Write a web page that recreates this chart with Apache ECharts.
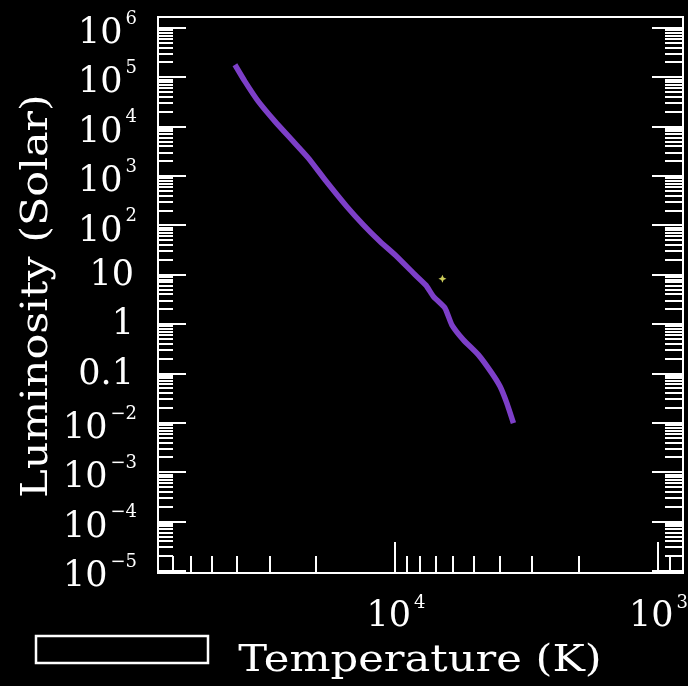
<!DOCTYPE html>
<html><head><meta charset="utf-8">
<script src="https://cdn.jsdelivr.net/npm/echarts@6/dist/echarts.min.js"></script>
<style>html,body{margin:0;padding:0;background:#000;}#c{width:688px;height:686px;}</style>
</head><body><div id="c"></div>
<script>
// ---- data ----
const trackTemp = [40740, 37330, 33190, 28680, 24780, 21410, 18490, 15280, 13210, 11410, 9852, 8515, 7620, 7145, 6450, 6079, 5491, 4813, 4279, 3979, 3751, 3540];
const trackLum  = [1.80e5, 8.28e4, 3.25e4, 1.28e4, 5450, 2320, 842, 242, 103, 47.3, 23.5, 10.8, 6.1, 3.63, 2.11, 0.97, 0.482, 0.239, 0.102, 0.0545, 0.0251, 0.00987];
const starTemp = [6600];
const starLum  = [8.3];
const yMajorValues = [1e6, 1e5, 1e4, 1e3, 1e2, 10, 1, 0.1, 1e-2, 1e-3, 1e-4, 1e-5];
const yTickLabels  = ['10^6', '10^5', '10^4', '10^3', '10^2', '10', '1', '0.1', '10^-2', '10^-3', '10^-4', '10^-5'];
const yMinorMantissa = [2, 3, 4, 5, 6, 7, 8, 9];
const yMinorDecades  = [-5, -4, -3, -2, -1, 0, 1, 2, 3, 4, 5];
const xMajorValues = [1e4, 1e3];
const xTickLabels  = ['10^4', '10^3'];
const xMinorValues = [80000, 70000, 60000, 50000, 40000, 30000, 20000, 9000, 8000, 7000, 6000, 5000, 4000, 3000, 2000, 900];
const xMin = 800, xMax = 80000;
const yMin = Math.pow(10, -5.04), yMax = Math.pow(10, 6.222);
const xTitle = 'Temperature (K)';
const yTitle = 'Luminosity (Solar)';

// ---- helpers ----
const FONT = '"DejaVu Serif", "Liberation Serif", serif';
const BASE_SIZE = 35, EXP_SIZE = 18;
const mctx = document.createElement('canvas').getContext('2d');
function textWidth(t, size) { mctx.font = size + 'px ' + FONT; return mctx.measureText(t).width; }
function splitLabel(s) {
  const i = s.indexOf('^');
  if (i < 0) return { base: s, exp: '' };
  return { base: s.slice(0, i), exp: s.slice(i + 1).replace('-', '\u2212') };
}
function txt(text, x, y, size, align) {
  return { type: 'text', x: x, y: y, style: { text: text, fill: '#fff', fontSize: size, fontFamily: FONT, align: align, verticalAlign: 'middle' } };
}

const yMinorValues = [];
yMinorDecades.forEach(d => yMinorMantissa.forEach(m => yMinorValues.push(m * Math.pow(10, d))));

const yTickData = yMajorValues.map(v => [1000, v, 1]).concat(yMinorValues.map(v => [1000, v, 0]));
const xTickData = xMajorValues.map(v => [v, 1, 1]).concat(xMinorValues.map(v => [v, 1, 0]));
const yLabelData = yMajorValues.map((v, i) => [1000, v, i]);
const xLabelData = xMajorValues.map((v, i) => [v, 1, i]);

const chart = echarts.init(document.getElementById('c'), null, { renderer: 'canvas' });
chart.setOption({
  backgroundColor: '#000',
  animation: false,
  grid: { left: 158, top: 17, right: 5, bottom: 113, show: true, borderColor: '#fff', borderWidth: 2, backgroundColor: 'transparent' },
  xAxis: { type: 'log', logBase: 10, min: xMin, max: xMax, inverse: true,
    axisLine: { show: false }, axisTick: { show: false }, axisLabel: { show: false }, splitLine: { show: false } },
  yAxis: { type: 'log', logBase: 10, min: yMin, max: yMax,
    axisLine: { show: false }, axisTick: { show: false }, axisLabel: { show: false }, splitLine: { show: false } },
  series: [
    { type: 'custom', silent: true, clip: false, data: yTickData,
      renderItem: function (params, api) {
        const cs = params.coordSys;
        const y = Math.round(api.coord([1000, api.value(1)])[1]);
        const major = api.value(2) === 1;
        const L = cs.x, R = cs.x + cs.width;
        return { type: 'group', children: [
          { type: 'line', shape: { x1: L, y1: y, x2: L + (major ? 28 : 15), y2: y }, style: { stroke: '#fff', lineWidth: 2 } },
          { type: 'line', shape: { x1: R, y1: y, x2: R - (major ? 31 : 18), y2: y }, style: { stroke: '#fff', lineWidth: 2 } }
        ] };
      } },
    { type: 'custom', silent: true, clip: false, data: xTickData,
      renderItem: function (params, api) {
        const cs = params.coordSys;
        const x = Math.round(api.coord([api.value(0), 1])[0]);
        const major = api.value(2) === 1;
        const B = cs.y + cs.height;
        return { type: 'line', shape: { x1: x, y1: B, x2: x, y2: B - (major ? 31 : 17) }, style: { stroke: '#fff', lineWidth: 2 } };
      } },
    { type: 'custom', silent: true, clip: false, data: yLabelData,
      renderItem: function (params, api) {
        const y = api.coord([1000, api.value(1)])[1];
        const p = splitLabel(yTickLabels[api.value(2)]);
        if (!p.exp) return txt(p.base, 134, y + 1, BASE_SIZE, 'right');
        const right = 137;
        const ew = textWidth(p.exp, EXP_SIZE);
        return { type: 'group', children: [
          txt(p.exp, right, y - 9, EXP_SIZE, 'right'),
          txt(p.base, right - ew - 3, y + 6, BASE_SIZE, 'right')
        ] };
      } },
    { type: 'custom', silent: true, clip: false, data: xLabelData,
      renderItem: function (params, api) {
        const x = api.coord([api.value(0), 1])[0];
        const p = splitLabel(xTickLabels[api.value(2)]);
        const bw = textWidth(p.base, BASE_SIZE), ew = textWidth(p.exp, EXP_SIZE);
        const left = x + 1 - (bw + 3 + ew) / 2;
        return { type: 'group', children: [
          txt(p.base, left, 617, BASE_SIZE, 'left'),
          txt(p.exp, left + bw + 3, 603, EXP_SIZE, 'left')
        ] };
      } },
    { type: 'line', data: trackTemp.map((t, i) => [t, trackLum[i]]), showSymbol: false, smooth: 0.15,
      lineStyle: { color: '#7d3fc8', width: 5.5 }, silent: true },
    { type: 'scatter', data: starTemp.map((t, i) => [t, starLum[i]]),
      symbol: 'path://M0,-10 L3,-3 L10,0 L3,3 L0,10 L-3,3 L-10,0 L-3,-3 Z', symbolSize: 8,
      itemStyle: { color: '#ffff70' }, silent: true }
  ],
  graphic: [
    { type: 'text', x: 420, y: 661, scaleX: 1.17, style: { text: xTitle, font: '37px ' + FONT, fill: '#fff', align: 'center', verticalAlign: 'middle' } },
    { type: 'text', x: 37, y: 296, rotation: Math.PI / 2, scaleX: 1.16, style: { text: yTitle, font: '37px ' + FONT, fill: '#fff', align: 'center', verticalAlign: 'middle' } },
    { type: 'rect', shape: { x: 36, y: 636, width: 172, height: 27 }, style: { fill: 'none', stroke: '#fff', lineWidth: 2.5 } }
  ]
});
</script></body></html>
